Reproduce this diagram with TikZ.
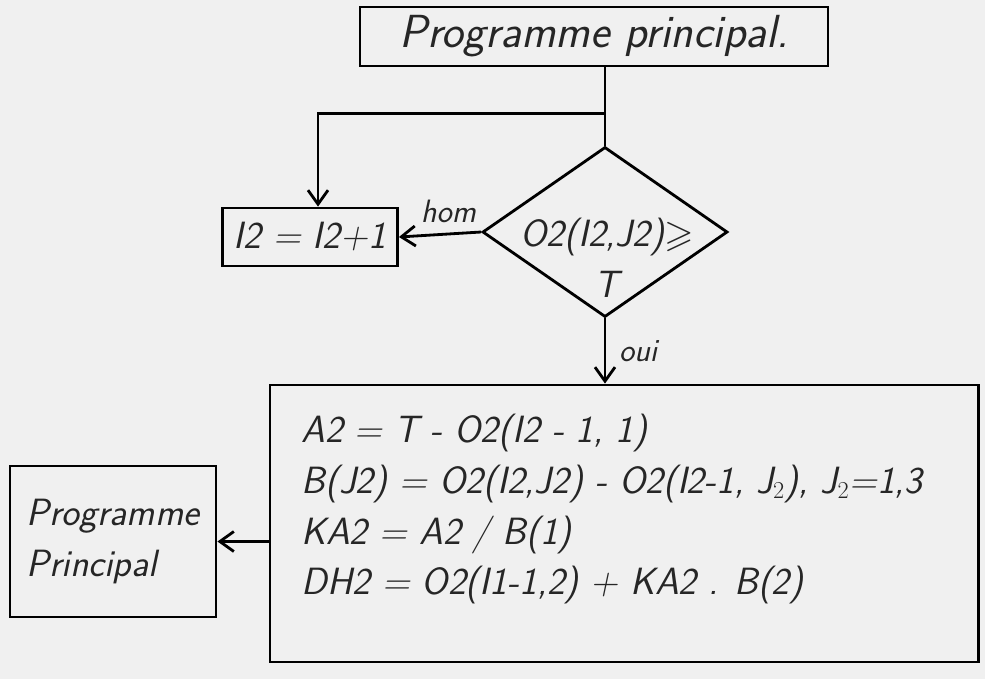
\documentclass[tikz,border=0pt]{standalone}
\usepackage{amsmath, amssymb}
\usepackage{fontspec}
\usepackage{tikz}
\usetikzlibrary{arrows.meta,positioning,shapes.geometric,calc}

\begin{document}
\begin{tikzpicture}[
        x=0.025cm, y=-0.025cm,
        hand/.style={font=\fontsize{27}{36}\selectfont\sffamily\itshape, text=black!85},
        box/.style={rectangle,draw,line width=2pt,inner sep=0pt,align=center,hand},
        decision/.style={diamond,draw,line width=2pt,inner sep=0pt,minimum width=6.125cm,minimum height=4.25cm},
        arrow/.style={-{Straight Barb[length=3.5mm,width=5mm]},line width=2pt}
    ]
        \fill[black!6] (0,0) rectangle (985,679);
        \useasboundingbox (0,0) rectangle (985,679);

        \node[box, minimum width=11.7cm, minimum height=1.475cm, font=\fontsize{33}{36}\selectfont\sffamily\itshape] (prog) at (594,36.5) {Programme principal.};
        \node[decision] (dec) at (605,232) {};
        \node[hand, align=center] (cond) at (607,258) {O2(I2,J2)$\geqslant$\\T};
        \node[box, minimum width=4.375cm, minimum height=1.45cm, font=\fontsize{27}{35}\selectfont\sffamily\itshape] (incr) at (310,237) {I2 = I2+1};
        \node[box, minimum width=17.7cm, minimum height=6.925cm] (calc) at (624,523.5) {};
        \node[hand, anchor=north west, align=left] (formulas) at ($(calc.north west)+(28,26)$) {%
            A2 = T - O2(I2 - 1, 1)\\
            B(J2) = O2(I2,J2) - O2(I2-1, J$_2$), J$_2$=1,3\\
            KA2 = A2 / B(1)\\
            DH2 = O2(I1-1,2) + KA2 . B(2)};
        \node[box, minimum width=5.15cm, minimum height=3.775cm, align=left] (retour) at (113,541.5) {Programme\\Principal};

        \coordinate (split) at ($(dec.north)+(0,-32)$);
        \draw[line width=2pt] (prog.south -| dec.north) -- (dec.north);
        \draw[arrow] (split) -| ($(incr.north)+(8,0)$);
        \draw[arrow] (dec.west) -- node[hand, above=4pt, xshift=6pt, font=\fontsize{23}{28}\selectfont\sffamily\itshape] {hom} (incr.east);
        \draw[arrow] (dec.south) -- node[hand, right=2mm, font=\fontsize{23}{28}\selectfont\sffamily\itshape] {oui} (dec.south |- calc.north);
        \draw[arrow] (calc.west |- retour.east) -- (retour.east);
    \end{tikzpicture}
\end{document}
